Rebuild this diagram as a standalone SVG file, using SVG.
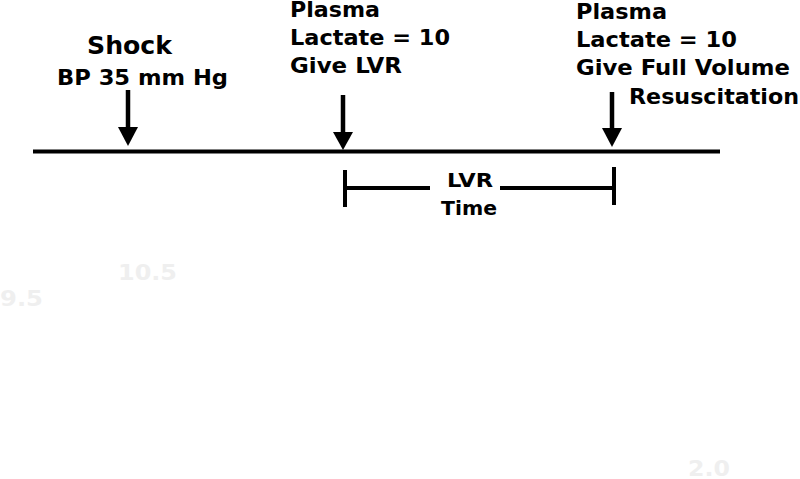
<svg xmlns="http://www.w3.org/2000/svg" width="800" height="479" viewBox="0 0 800 479">
<defs>
<style>
text{font-family:"DejaVu Sans","Verdana",sans-serif;font-weight:bold;fill:#000}
.t{font-size:21px}
.faint{fill:#efefef;font-size:22px}
.ln{stroke:#000;stroke-width:4;fill:none}
.sh{stroke:#000;stroke-width:4.5;fill:none}
</style>
</defs>
<rect width="800" height="479" fill="#fff"/>
<g id="connectors">
<line class="ln" x1="33" y1="151.5" x2="720" y2="151.5"/>
<line class="sh" x1="128" y1="90" x2="128" y2="130"/>
<polygon points="118,127 138,127 128,146"/>
<line class="sh" x1="343" y1="95" x2="343" y2="134"/>
<polygon points="333,132 353,132 343,150"/>
<line class="sh" x1="612" y1="92" x2="612" y2="130"/>
<polygon points="602,128 622,128 612,147"/>
<line class="ln" x1="345" y1="170" x2="345" y2="207"/>
<line class="ln" x1="614" y1="167" x2="614" y2="205"/>
<line class="ln" x1="345" y1="188" x2="430" y2="188"/>
<line class="ln" x1="500" y1="188" x2="614" y2="188"/>
</g>
<g id="shock">
<text x="87" y="54" font-size="24" textLength="85" lengthAdjust="spacingAndGlyphs">Shock</text>
<text x="57" y="85" font-size="22" textLength="171" lengthAdjust="spacingAndGlyphs">BP 35 mm Hg</text>
</g>
<g id="lvr-start">
<text class="t" x="290" y="17" textLength="90" lengthAdjust="spacingAndGlyphs">Plasma</text>
<text class="t" x="290" y="45" textLength="160" lengthAdjust="spacingAndGlyphs">Lactate = 10</text>
<text class="t" x="290" y="73" textLength="112" lengthAdjust="spacingAndGlyphs">Give LVR</text>
</g>
<g id="full-volume">
<text class="t" x="576" y="19" textLength="91" lengthAdjust="spacingAndGlyphs">Plasma</text>
<text class="t" x="576" y="47" textLength="161" lengthAdjust="spacingAndGlyphs">Lactate = 10</text>
<text class="t" x="576" y="75" textLength="214" lengthAdjust="spacingAndGlyphs">Give Full Volume</text>
<text class="t" x="629" y="104" textLength="170" lengthAdjust="spacingAndGlyphs">Resuscitation</text>
</g>
<g id="lvr-time">
<text x="447" y="187" font-size="19" textLength="46" lengthAdjust="spacingAndGlyphs">LVR</text>
<text x="441" y="215" font-size="20" textLength="56" lengthAdjust="spacingAndGlyphs">Time</text>
</g>
<g id="faint">
<text class="faint" x="118" y="280" textLength="59" lengthAdjust="spacingAndGlyphs">10.5</text>
<text class="faint" x="0" y="306" textLength="43" lengthAdjust="spacingAndGlyphs">9.5</text>
<text class="faint" x="688" y="476" textLength="42" lengthAdjust="spacingAndGlyphs">2.0</text>
</g>
</svg>
